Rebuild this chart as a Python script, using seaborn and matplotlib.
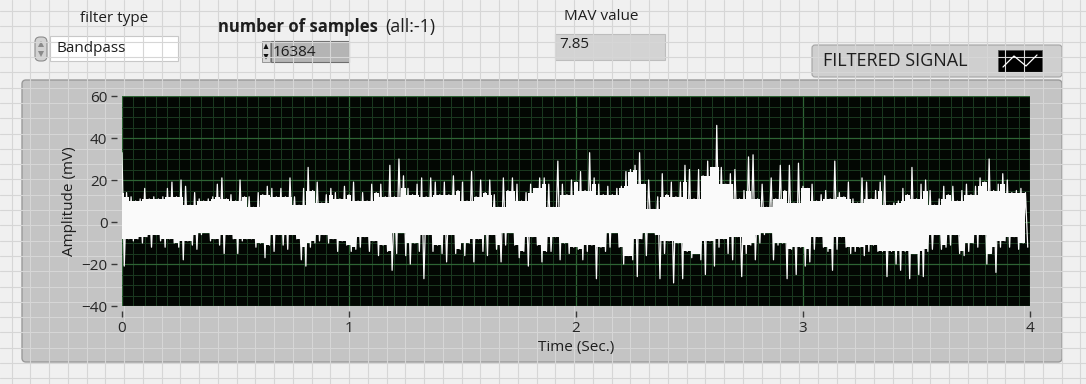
import numpy as np
import pandas as pd
import matplotlib.pyplot as plt
import seaborn as sns
from matplotlib.patches import Rectangle, FancyBboxPatch, Polygon
from matplotlib.ticker import MultipleLocator

upper_peaks = [
    33, 14, 12, 10, 11, 16, 11, 12, 11, 12, 16, 19, 12, 20, 17, 8, 14, 11, 10, 11,
    12, 18, 21, 11, 13, 10, 20, 12, 12, 7, 14, 13, 17, 16, 12, 16, 12, 21, 12, 8,
    16, 26, 15, 19, 9, 13, 16, 14, 11, 17,
    13, 19, 10, 14, 10, 18, 14, 18, 12, 27, 12, 30, 22, 16, 13, 18, 21, 12, 21, 19,
    13, 19, 13, 22, 15, 19, 10, 24, 12, 20, 14, 20, 13, 7, 21, 15, 21, 18, 10, 14,
    18, 16, 21, 21, 18, 7, 29, 18, 13, 20,
    19, 24, 15, 33, 21, 18, 13, 17, 13, 16, 17, 24, 25, 27, 33, 18, 20, 6, 12, 23,
    13, 19, 12, 19, 27, 25, 11, 25, 22, 29, 26, 46, 26, 18, 23, 25, 11, 15, 31, 32,
    11, 18, 7, 21, 11, 27, 15, 27, 9, 28,
    17, 16, 18, 10, 13, 15, 11, 29, 14, 12, 19, 11, 9, 21, 19, 11, 15, 19, 22, 8,
    9, 10, 16, 13, 26, 11, 18, 20, 15, 8, 11, 17, 13, 17, 10, 15, 18, 13, 17, 21,
    19, 30, 15, 18, 23, 20, 14, 15, 16, 14,
]
lower_peaks = [
    -21, -8, -9, -8, -10, -7, -12, -6, -9, -12, -8, -10, -12, -18, -9, -11, -13, -6, -5, -9,
    -8, -11, -15, -6, -8, -15, -9, -8, -8, -12, -10, -17, -11, -14, -6, -11, -13, -6, -8, -18,
    -21, -12, -10, -9, -6, -10, -8, -14, -9, -11,
    -14, -13, -12, -7, -14, -9, -16, -11, -14, -23, -15, -5, -16, -20, -10, -14, -27, -6, -14, -11,
    -15, -19, -6, -15, -13, -16, -10, -19, -8, -14, -16, -6, -13, -19, -11, -5, -11, -17, -14, -21,
    -7, -11, -19, -14, -14, -7, -18, -10, -15, -12,
    -13, -18, -14, -11, -27, -12, -14, -12, -5, -12, -20, -16, -18, -26, -8, -16, -5, -6, -27, -15,
    -9, -29, -10, -27, -14, -17, -15, -18, -25, -9, -21, -12, -8, -15, -18, -7, -26, -15, -11, -18,
    -10, -6, -5, -18, -11, -10, -27, -13, -25, -12,
    -21, -19, -13, -7, -12, -14, -23, -13, -7, -12, -15, -14, -12, -16, -14, -11, -14, -14, -26, -14,
    -20, -23, -14, -27, -15, -25, -26, -14, -13, -6, -13, -12, -11, -6, -15, -16, -14, -10, -12, -6,
    -20, -15, -24, -12, -9, -12, -7, -13, -10, -12,
]
x_ticks = [0, 1, 2, 3, 4]
y_ticks = [-40, -20, 0, 20, 40, 60]

pair_step = 0.02
peaks = pd.DataFrame({"upper": upper_peaks, "lower": lower_peaks})
peaks["time"] = np.arange(len(peaks)) * pair_step
# dense core of the trace: the shelf under the spikes
peaks["core_hi"] = peaks["upper"].rolling(3, center=True, min_periods=1).min()
peaks["core_lo"] = peaks["lower"].rolling(3, center=True, min_periods=1).max()

amp = peaks[["upper", "lower"]].to_numpy().ravel()
df = pd.DataFrame({"time": np.arange(len(amp)) * pair_step / 2, "amp": amp})

sns.set_theme(style="dark")
plt.rcParams["font.family"] = ["Open Sans", "DejaVu Sans"]

W, H = 1086, 384
fig = plt.figure(figsize=(W / 100, H / 100), dpi=100)
fig.patch.set_facecolor("#f0f0f0")

# front panel background + decorations (pixel coordinates)
bg = fig.add_axes([0, 0, 1, 1], zorder=-10)
for gx in np.arange(11.7, W, 18.75):
    bg.axvline(gx, color="#d6d6d6", lw=0.8)
for gy in np.arange(11.1, H, 15.3):
    bg.axhline(gy, color="#d6d6d6", lw=0.8)

# graph frame
bg.add_patch(FancyBboxPatch((22, 80), 1040, 282, boxstyle="round,pad=0,rounding_size=4",
                            fc="#c4c4c4", ec="#9a9a9a", lw=1))
grad = np.linspace(0.80, 0.55, 30).reshape(1, -1)
bg.imshow(grad, extent=[1040, 1062, 361, 81], cmap="gray", vmin=0, vmax=1, aspect="auto")
grad_l = np.linspace(0.86, 0.77, 10).reshape(1, -1)
bg.imshow(grad_l, extent=[23, 32, 361, 81], cmap="gray", vmin=0, vmax=1, aspect="auto")

txt = dict(fontsize=11, color="#1e1e1e", va="center")

# filter type ring
bg.text(80, 18, "filter type", **txt)
bg.add_patch(FancyBboxPatch((35, 37), 12, 24, boxstyle="round,pad=0,rounding_size=5",
                            fc="#d2d2d2", ec="#8c8c8c", lw=0.8))
bg.add_patch(Polygon([[38, 47], [44, 47], [41, 41]], closed=True, fc="#8a8a8a", ec="none"))
bg.add_patch(Polygon([[38, 51], [44, 51], [41, 57]], closed=True, fc="#8a8a8a", ec="none"))
bg.add_patch(Rectangle((50, 36), 128, 25, fc="white", ec="#c8c8c8", lw=0.8))
bg.text(56, 49, "Bandpass", **txt)

# number of samples control
bg.text(218, 27, "number of samples", fontweight="bold", fontsize=12, color="#1e1e1e",
        va="center")
bg.text(385, 27, "(all:-1)", fontsize=12.8, color="#1e1e1e", va="center")
bg.add_patch(Rectangle((262, 41), 8, 21, fc="#d8d8d8", ec="#8a8a8a", lw=0.6))
bg.add_patch(Polygon([[263.5, 49], [268.5, 49], [266, 43.5]], closed=True, fc="#111111", ec="none"))
bg.add_patch(Polygon([[263.5, 54], [268.5, 54], [266, 59.5]], closed=True, fc="#111111", ec="none"))
bg.add_patch(Rectangle((271, 41), 78, 21, fc="#b4b4b4", ec="#6e6e6e", lw=0.8))
bg.text(273, 52, "16384", **txt)

# MAV indicator
bg.text(564, 17, "MAV value", **txt)
bg.add_patch(Rectangle((555, 34), 110, 26, fc="#d3d3d3", ec="#bdbdbd", lw=0.8))
bg.text(559, 45, "7.85", **txt)

# plot legend
bg.add_patch(FancyBboxPatch((812, 45), 250, 32, boxstyle="round,pad=0,rounding_size=3",
                            fc="#cfcfcf", ec="#a3a3a3", lw=0.8))
grad_r = np.linspace(0.80, 0.60, 12).reshape(1, -1)
bg.imshow(grad_r, extent=[1050, 1061, 76, 46], cmap="gray", vmin=0, vmax=1, aspect="auto")
bg.text(823, 61, "FILTERED SIGNAL", fontsize=13, color="#1e1e1e", va="center")
bg.add_patch(Rectangle((998, 50), 44, 22, fc="black", ec="#555555", lw=0.6))
bg.plot([1003, 1014, 1026, 1037], [67, 56, 66, 55], color="white", lw=0.9)
bg.set_xlim(0, W)
bg.set_ylim(H, 0)
bg.axis("off")

# waveform graph
ax = fig.add_axes([122 / W, 1 - 306 / H, 908 / W, 210 / H])
ax.set_facecolor("#030703")
ax.fill_between(peaks["time"], peaks["core_lo"], peaks["core_hi"], step="mid",
                color="#fafafa", lw=0, zorder=2)
sns.lineplot(data=df, x="time", y="amp", ax=ax, color="#fafafa", lw=0.9,
             estimator=None, sort=False, zorder=3)
ax.set_xlim(0, 4)
ax.set_ylim(-40, 60)
ax.set_xticks(x_ticks)
ax.set_yticks(y_ticks)
ax.xaxis.set_minor_locator(MultipleLocator(0.05))
ax.yaxis.set_minor_locator(MultipleLocator(5))
ax.grid(which="major", color="#2e6434", lw=0.9)
ax.grid(which="minor", color="#1b3a20", lw=0.7)
ax.set_axisbelow(True)
for side in ["left", "bottom"]:
    ax.spines[side].set_position(("outward", 3.5))
for s in ax.spines.values():
    s.set_visible(False)
ax.tick_params(which="major", direction="out", length=4, width=1, color="#3a3a3a",
               pad=3, labelsize=11, labelcolor="#262626", left=True, bottom=True)
ax.tick_params(which="minor", length=0)
ax.set_xlabel("Time (Sec.)", fontsize=11, color="#1e1e1e")
ax.set_ylabel("Amplitude (mV)", fontsize=11, color="#1e1e1e")
ax.xaxis.set_label_coords(0.5, -0.16)
ax.yaxis.set_label_coords(-0.05, 0.5)

fig.savefig("out.png", dpi=100)
